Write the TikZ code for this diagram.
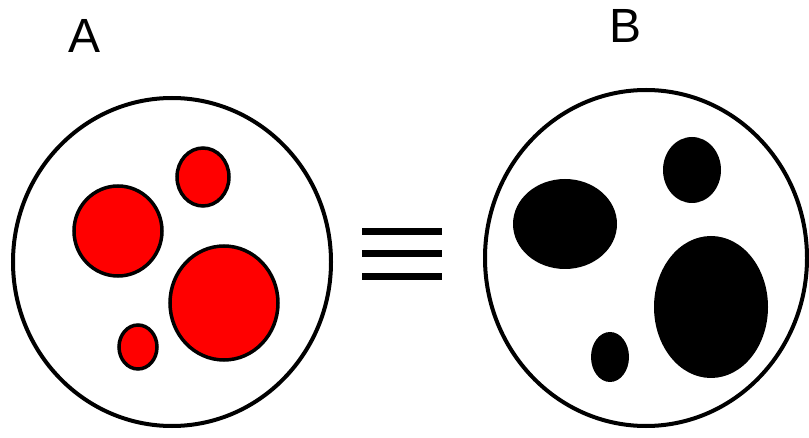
\documentclass[tikz,border=0pt]{standalone}
\usepackage{fontspec}
\setmainfont{Liberation Sans}
\begin{document}
\begin{tikzpicture}[x=1pt,y=-1pt,
  big/.style={draw=black,line width=4pt,fill=white},
  redblob/.style={draw=black,line width=3.5pt,fill=red},
  blackblob/.style={fill=black},
  eqbar/.style={line width=7pt},
  lbl/.style={font=\fontsize{48}{48}\selectfont,anchor=base,inner sep=0pt}]
\useasboundingbox (0,0) rectangle (809,438);
\fill[white] (0,0) rectangle (809,438);
% circle A
\draw[big] (172,262) ellipse [x radius=159, y radius=164];
\draw[redblob] (118,231) ellipse [x radius=44, y radius=45];
\draw[redblob] (203,177) ellipse [x radius=26, y radius=29];
\draw[redblob] (224,303) ellipse [x radius=54, y radius=57];
\draw[redblob] (138,347) ellipse [x radius=19, y radius=22];
% equivalence sign
\coordinate (e1l) at (362,231.5); \coordinate (e1r) at (442,231.5);
\coordinate (e2l) at (362,254); \coordinate (e2r) at (442,254);
\coordinate (e3l) at (362,276.5); \coordinate (e3r) at (442,276.5);
\draw[eqbar] (e1l) -- (e1r);
\draw[eqbar] (e2l) -- (e2r);
\draw[eqbar] (e3l) -- (e3r);
% circle B
\draw[big] (646,258) ellipse [x radius=161, y radius=168];
\fill[blackblob] (565,224) ellipse [x radius=52, y radius=45];
\fill[blackblob] (692,170) ellipse [x radius=29, y radius=33];
\fill[blackblob] (711,307) ellipse [x radius=57, y radius=71];
\fill[blackblob] (610,357) ellipse [x radius=19, y radius=25];
% labels
\node[lbl] (la) at (85,53) {A};
\node[lbl] (lb) at (626,43) {B};
\end{tikzpicture}
\end{document}
